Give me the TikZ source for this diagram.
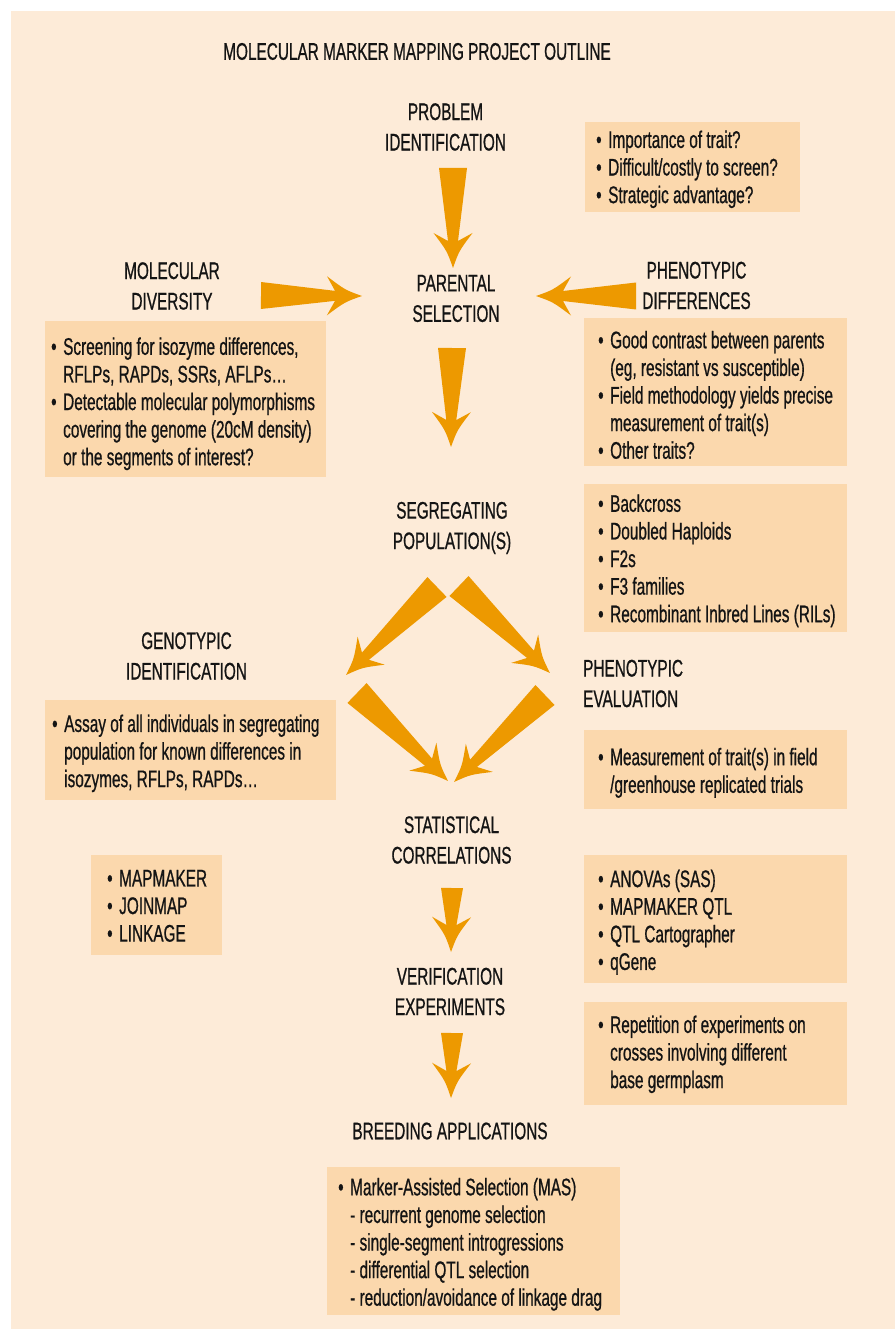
\documentclass[tikz,border=0pt]{standalone}
\usepackage{fontspec}
\setmainfont{Liberation Sans}[FakeStretch=0.64, FakeBold=0.7]
\usetikzlibrary{calc}

\definecolor{panelbg}{RGB}{253,235,216}
\definecolor{boxbg}{RGB}{251,216,173}
\definecolor{arroworange}{RGB}{237,153,0}
\definecolor{ink}{RGB}{20,20,20}

% list helpers: bullet line and indented continuation line
\newcommand\bul{\strut\makebox[12pt][l]{\textbullet}}
\newcommand\ind{\strut\makebox[12pt][l]{}}

% tapered block arrow from coordinate #1 (tail) to coordinate #2 (tip), tail half-width #3
\newdimen\baAx \newdimen\baAy \newdimen\baBx \newdimen\baBy
\newcommand\blockarrow[3]{%
  \pgfextractx{\baAx}{\pgfpointanchor{#1}{center}}%
  \pgfextracty{\baAy}{\pgfpointanchor{#1}{center}}%
  \pgfextractx{\baBx}{\pgfpointanchor{#2}{center}}%
  \pgfextracty{\baBy}{\pgfpointanchor{#2}{center}}%
  \pgfmathsetmacro\baAng{atan2((\the\baBy)-(\the\baAy),(\the\baBx)-(\the\baAx))}%
  \pgfmathsetmacro\baLen{veclen((\the\baBx)-(\the\baAx),(\the\baBy)-(\the\baAy))}%
  \begin{scope}[shift={(#1)}, rotate=\baAng, x=1pt, y=1pt]
    \fill[arrowfill] (0,#3) -- (\baLen-27,5) -- (\baLen-35,19.5)
      .. controls (\baLen-17,6) .. (\baLen,0)
      .. controls (\baLen-17,-6) .. (\baLen-35,-19.5)
      -- (\baLen-27,-5) -- (0,-#3) -- cycle;
  \end{scope}}

\tikzset{
  heading/.style={inner sep=0pt, align=center, text=ink, font=\fontsize{24}{30.5}\selectfont},
  infobox/.style={fill=boxbg, inner sep=0pt, anchor=north west},
  infotext/.style={inner sep=0pt, anchor=west, align=left, text=ink, font=\fontsize{24}{27.6}\selectfont},
  arrowfill/.style={fill=arroworange},
}

\begin{document}
\begin{tikzpicture}[x=1pt, y=-1pt]
  \useasboundingbox (0,0) rectangle (895,1329);
  \fill[panelbg] (11,11) rectangle (895,1329);

  % ---- headings ----
  \node[heading] (title) at (417,51.5) {MOLECULAR MARKER MAPPING PROJECT OUTLINE};
  \node[heading] (problem) at (445.5,127) {PROBLEM\\IDENTIFICATION};
  \node[heading] (parental) at (456,298.5) {PARENTAL\\SELECTION};
  \node[heading] (moldiv) at (172,286) {MOLECULAR\\DIVERSITY};
  \node[heading] (phendiff) at (696.5,285.5) {PHENOTYPIC\\DIFFERENCES};
  \node[heading] (segpop) at (452,528) {SEGREGATING\\POPULATION(S)};
  \node[heading] (genoid) at (186.5,656) {GENOTYPIC\\IDENTIFICATION};
  \node[heading, align=left, anchor=west] (phenoeval) at (583,683.5) {PHENOTYPIC\\EVALUATION};
  \node[heading] (statcorr) at (451.5,840) {STATISTICAL\\CORRELATIONS};
  \node[heading] (verif) at (450,991.5) {VERIFICATION\\EXPERIMENTS};
  \node[heading] (breeding) at (450,1131) {BREEDING APPLICATIONS};

  % ---- information boxes ----
  \node[infobox, minimum width=215pt, minimum height=90pt] (b1) at (585,122) {};
  \node[infotext] (b1t) at (596,170) {\bul Importance of trait?\\
    \bul Difficult/costly to screen?\\
    \bul Strategic advantage?};

  \node[infobox, minimum width=281pt, minimum height=156pt] (b2) at (45,321) {};
  \node[infotext] (b2t) at (51,404.5) {\bul Screening for isozyme differences,\\
    \ind RFLPs, RAPDs, SSRs, AFLPs…\\
    \bul Detectable molecular polymorphisms\\
    \ind covering the genome (20cM density)\\
    \ind or the segments of interest?};

  \node[infobox, minimum width=263pt, minimum height=148pt] (b3) at (584,318) {};
  \node[infotext] (b3t) at (598,398) {\bul Good contrast between parents\\
    \ind (eg, resistant vs susceptible)\\
    \bul Field methodology yields precise\\
    \ind measurement of trait(s)\\
    \bul Other traits?};

  \node[infobox, minimum width=263pt, minimum height=148pt] (b4) at (584,484) {};
  \node[infotext] (b4t) at (598,561.5) {\bul Backcross\\
    \bul Doubled Haploids\\
    \bul F2s\\
    \bul F3 families\\
    \bul Recombinant Inbred Lines (RILs)};

  \node[infobox, minimum width=291pt, minimum height=100pt] (b5) at (45,700) {};
  \node[infotext] (b5t) at (52,754) {\bul Assay of all individuals in segregating\\
    \ind population for known differences in\\
    \ind isozymes, RFLPs, RAPDs…};

  \node[infobox, minimum width=263pt, minimum height=79pt] (b6) at (584,730) {};
  \node[infotext] (b6t) at (598,773.5) {\bul Measurement of trait(s) in field\\
    \ind /greenhouse replicated trials};

  \node[infobox, minimum width=131pt, minimum height=100pt] (b7) at (91,855) {};
  \node[infotext] (b7t) at (107,908.5) {\bul MAPMAKER\\
    \bul JOINMAP\\
    \bul LINKAGE};

  \node[infobox, minimum width=263pt, minimum height=128pt] (b8) at (584,855) {};
  \node[infotext] (b8t) at (598,923) {\bul ANOVAs (SAS)\\
    \bul MAPMAKER QTL\\
    \bul QTL Cartographer\\
    \bul qGene};

  \node[infobox, minimum width=263pt, minimum height=103pt] (b9) at (584,1002) {};
  \node[infotext] (b9t) at (598,1055) {\bul Repetition of experiments on\\
    \ind crosses involving different\\
    \ind base germplasm};

  \node[infobox, minimum width=293pt, minimum height=148pt] (b10) at (327,1167) {};
  \node[infotext] (b10t) at (338,1245) {\bul Marker-Assisted Selection (MAS)\\
    \ind - recurrent genome selection\\
    \ind - single-segment introgressions\\
    \ind - differential QTL selection\\
    \ind - reduction/avoidance of linkage drag};

  % ---- arrow end points ----
  \coordinate (a1s) at (453,168);  \coordinate (a1e) at (453,268);
  \coordinate (a2s) at (261,295.5); \coordinate (a2e) at (362,296);
  \coordinate (a3s) at (636,296);  \coordinate (a3e) at (536,296);
  \coordinate (a4s) at (452,348);  \coordinate (a4e) at (451,447);
  \coordinate (a5s) at (437,587);  \coordinate (a5e) at (346,675);
  \coordinate (a6s) at (459,586);  \coordinate (a6e) at (550,673);
  \coordinate (a7s) at (357,693);  \coordinate (a7e) at (448,781);
  \coordinate (a8s) at (545,695);  \coordinate (a8e) at (454,782);
  \coordinate (a9s) at (452,888);  \coordinate (a9e) at (451,952);
  \coordinate (a10s) at (452,1033); \coordinate (a10e) at (451,1098);

  % ---- block arrows ----
  \blockarrow{a1s}{a1e}{14}
  \blockarrow{a2s}{a2e}{13.5}
  \blockarrow{a3s}{a3e}{13.5}
  \blockarrow{a4s}{a4e}{14}
  \blockarrow{a5s}{a5e}{13.8}
  \blockarrow{a6s}{a6e}{13.8}
  \blockarrow{a7s}{a7e}{13.8}
  \blockarrow{a8s}{a8e}{13.8}
  \blockarrow{a9s}{a9e}{11}
  \blockarrow{a10s}{a10e}{11}
\end{tikzpicture}
\end{document}
